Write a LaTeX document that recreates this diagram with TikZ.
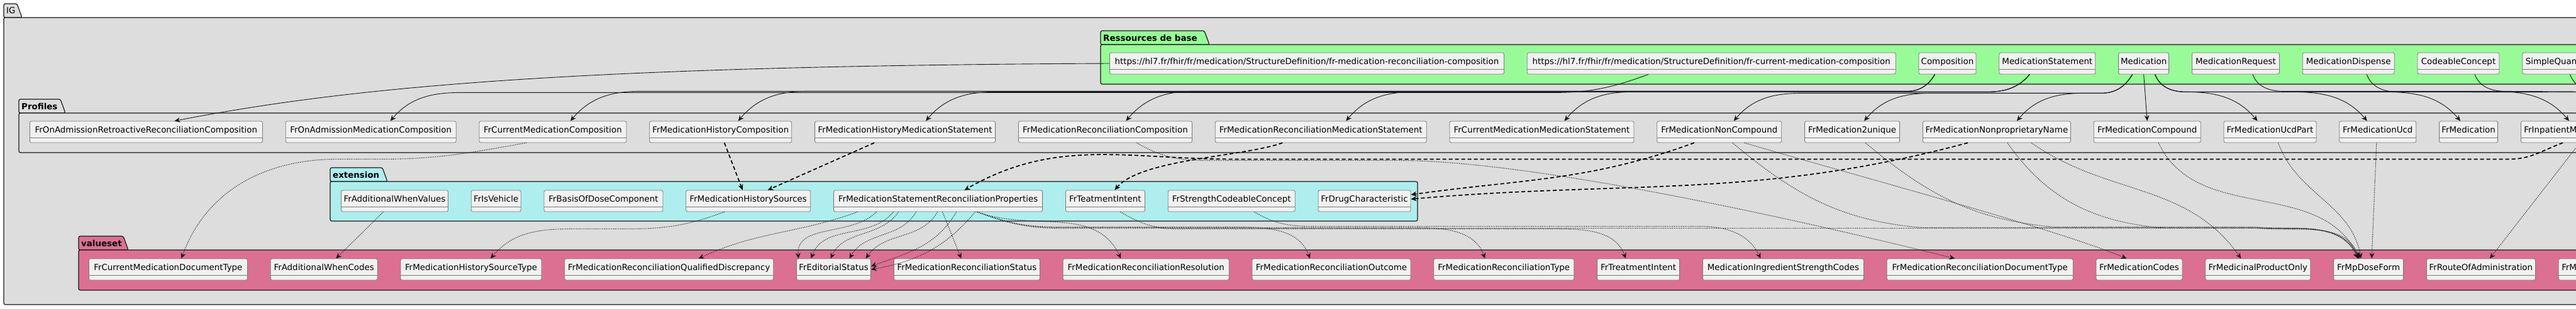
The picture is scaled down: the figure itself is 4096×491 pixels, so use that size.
\documentclass[tikz,border=0pt]{standalone}
\usepackage{fontspec}
\setmainfont{DejaVu Sans}
\usetikzlibrary{positioning,arrows.meta}

\definecolor{igback}{HTML}{DDDDDD}
\definecolor{basegreen}{HTML}{98FB98}
\definecolor{extcyan}{HTML}{AFEEEE}
\definecolor{vspink}{HTML}{DB7093}
\definecolor{boxfill}{HTML}{F1F1F1}
\definecolor{boxline}{HTML}{7A7A7A}
\definecolor{inkline}{HTML}{181818}

\newcommand{\boxfont}{\fontsize{13.4}{16}\selectfont}
% package frame: x, tab top, tab right, frame top, frame right, frame bottom, colour, title
\newcommand{\pkgframe}[8]{%
  \filldraw[pkg line, fill=#7] (#1,-#4) -- (#1,-#2) -- (#3-8,-#2) -- (#3,-#4) -- cycle;
  \filldraw[pkg line, fill=#7] (#1,-#4) rectangle (#5,-#6);
  \node[pkg title] at ({#1+4},{-(#2+#4)/2}) {#8};
}

\begin{document}
\begin{tikzpicture}[x=1pt, y=1pt,
    >={Stealth[length=9pt,width=8pt,inset=3pt]},
    pkg line/.style={draw=inkline, line width=1.2pt, rounded corners=2.5pt},
    pkg title/.style={anchor=west, inner sep=0pt, font=\boxfont\bfseries},
    class box/.style={draw=boxline, fill=boxfill, line width=0.8pt, rounded corners=2.5pt,
        inner sep=0pt, minimum height=34pt, text height=14pt, text depth=12pt,
        anchor=west, font=\boxfont,
        path picture={\draw[boxline, line width=0.8pt]
            ([yshift=8pt]path picture bounding box.south west) --
            ([yshift=8pt]path picture bounding box.south east);}},
    cut box/.style={class box, inner xsep=5pt},
    base edge/.style={->, draw=inkline, line width=0.9pt},
    ext edge/.style={->, draw=black, line width=1.7pt, dash pattern=on 6pt off 4pt},
    vs edge/.style={->, draw=inkline, line width=1.1pt, dash pattern=on 1.1pt off 1.7pt}]

  \useasboundingbox (0,0) rectangle (4096,-491);
  \clip (0,0) rectangle (4096,-491);

  % packages
  \pkgframe{6}{6}{35}{28}{4200}{485}{igback}{\mdseries IG}
  \pkgframe{1750}{49}{1923}{71}{4200}{134}{basegreen}{Ressources de base}
  \pkgframe{30}{158}{104}{180}{4200}{243}{igback}{Profiles}
  \pkgframe{525}{267}{616}{289}{2254}{352}{extcyan}{extension}
  \pkgframe{125}{376}{204}{398}{4200}{462}{vspink}{valueset}

  % Ressources de base
  \node[class box, minimum width=627pt] (b1) at (1764,-101) {https://hl7.fr/fhir/fr/medication/StructureDefinition/fr-medication-reconciliation-composition};
  \node[class box, minimum width=586pt] (b2) [right=36pt of b1] {https://hl7.fr/fhir/fr/medication/StructureDefinition/fr-current-medication-composition};
  \node[class box, minimum width=91pt] (comp) [right=36pt of b2] {Composition};
  \node[class box, minimum width=153pt] (mstat) [right=36pt of comp] {MedicationStatement};
  \node[class box, minimum width=80pt] (med) [right=36pt of mstat] {Medication};
  \node[class box, minimum width=139pt] (mreq) [right=36pt of med] {MedicationRequest};
  \node[class box, minimum width=146pt] (mdisp) [right=36pt of mreq] {MedicationDispense};
  \node[class box, minimum width=130pt] (ccpt) [right=36pt of mdisp] {CodeableConcept};
  \node[cut box] (squant) [right=36pt of ccpt] {\makebox[200pt][l]{SimpleQuant}};

  % Profiles
  \node[class box, minimum width=370pt] (p1) at (47,-210) {FrOnAdmissionRetroactiveReconciliationComposition};
  \node[class box, minimum width=271pt] (p2) [right=36pt of p1] {FrOnAdmissionMedicationComposition};
  \node[class box, minimum width=234pt] (p3) [right=36pt of p2] {FrCurrentMedicationComposition};
  \node[class box, minimum width=226pt] (p4) [right=36pt of p3] {FrMedicationHistoryComposition};
  \node[class box, minimum width=287pt] (p5) [right=36pt of p4] {FrMedicationHistoryMedicationStatement};
  \node[class box, minimum width=276pt] (p6) [right=36pt of p5] {FrMedicationReconciliationComposition};
  \node[class box, minimum width=336pt] (p7) [right=36pt of p6] {FrMedicationReconciliationMedicationStatement};
  \node[class box, minimum width=293pt] (p8) [right=36pt of p7] {FrCurrentMedicationMedicationStatement};
  \node[class box, minimum width=198pt] (p9) [right=36pt of p8] {FrMedicationNonCompound};
  \node[class box, minimum width=151pt] (p10) [right=36pt of p9] {FrMedication2unique};
  \node[class box, minimum width=235pt] (p11) [right=36pt of p10] {FrMedicationNonproprietaryName};
  \node[class box, minimum width=170pt] (p12) [right=36pt of p11] {FrMedicationCompound};
  \node[class box, minimum width=147pt] (p13) [right=36pt of p12] {FrMedicationUcdPart};
  \node[class box, minimum width=122pt] (p14) [right=36pt of p13] {FrMedicationUcd};
  \node[class box, minimum width=93pt] (p15) [right=36pt of p14] {FrMedication};
  \node[cut box] (p16) [right=36pt of p15] {\makebox[200pt][l]{FrInpatientMe}};

  % extension
  \node[class box, minimum width=170pt] (e1) at (542,-320) {FrAdditionalWhenValues};
  \node[class box, minimum width=79pt] (e2) [right=36pt of e1] {FrIsVehicle};
  \node[class box, minimum width=189pt] (e3) [right=36pt of e2] {FrBasisOfDoseComponent};
  \node[class box, minimum width=198pt] (e4) [right=36pt of e3] {FrMedicationHistorySources};
  \node[class box, minimum width=332pt] (e5) [right=36pt of e4] {FrMedicationStatementReconciliationProperties};
  \node[class box, minimum width=126pt] (e6) [right=36pt of e5] {FrTeatmentIntent};
  \node[class box, minimum width=202pt] (e7) [right=36pt of e6] {FrStrengthCodeableConcept};
  \node[class box, minimum width=147pt] (e8) [right=36pt of e7] {FrDrugCharacteristic};

  % valueset
  \node[class box, minimum width=252pt] (v1) at (141,-429) {FrCurrentMedicationDocumentType};
  \node[class box, minimum width=170pt] (v2) [right=36pt of v1] {FrAdditionalWhenCodes};
  \node[class box, minimum width=224pt] (v3) [right=36pt of v2] {FrMedicationHistorySourceType};
  \node[class box, minimum width=332pt] (v4) [right=36pt of v3] {FrMedicationReconciliationQualifiedDiscrepancy};
  \node[class box, minimum width=118pt] (v5) [right=36pt of v4] {FrEditorialStatus};
  \node[class box, minimum width=232pt] (v6) [right=36pt of v5] {FrMedicationReconciliationStatus};
  \node[class box, minimum width=264pt] (v7) [right=36pt of v6] {FrMedicationReconciliationResolution};
  \node[class box, minimum width=252pt] (v8) [right=36pt of v7] {FrMedicationReconciliationOutcome};
  \node[class box, minimum width=223pt] (v9) [right=36pt of v8] {FrMedicationReconciliationType};
  \node[class box, minimum width=131pt] (v10) [right=36pt of v9] {FrTreatmentIntent};
  \node[class box, minimum width=256pt] (v11) [right=36pt of v10] {MedicationIngredientStrengthCodes};
  \node[class box, minimum width=296pt] (v12) [right=36pt of v11] {FrMedicationReconciliationDocumentType};
  \node[class box, minimum width=137pt] (v13) [right=36pt of v12] {FrMedicationCodes};
  \node[class box, minimum width=167pt] (v14) [right=36pt of v13] {FrMedicinalProductOnly};
  \node[class box, minimum width=111pt] (v15) [right=36pt of v14] {FrMpDoseForm};
  \node[class box, minimum width=173pt] (v16) [right=36pt of v15] {FrRouteOfAdministration};
  \node[cut box] (v17) [right=36pt of v16] {\makebox[200pt][l]{FrMet}};

  \coordinate (offright) at (4300,-147);

  % base resources -> profiles
  \draw[base edge] (b1.west) .. controls +(-864,-4) and +(273,53) .. ([xshift=45]p1.north);
  \draw[base edge] ([xshift=-100]b2.south) to[out=-160,in=0] ++(-150,-29) -- ++(-1740,0) to[out=180,in=50] ([xshift=31]p2.north);
  \draw[base edge] ([xshift=-20]comp.south) to[out=-120,in=0] ++(-45,-27) -- ++(-2015,0) to[out=180,in=50] ([xshift=28]p3.north);
  \draw[base edge] ([xshift=-20]comp.south) to[out=-120,in=0] ++(-45,-27) -- ++(-1749,0) to[out=180,in=50] ([xshift=28]p4.north);
  \draw[base edge] ([xshift=-20]comp.south) to[out=-120,in=0] ++(-45,-27) -- ++(-1134,0) to[out=180,in=50] ([xshift=33]p6.north);
  \draw[base edge] ([xshift=-28]mstat.south) to[out=-130,in=0] ++(-70,-28) -- ++(-1576,0) to[out=180,in=50] ([xshift=33]p5.north);
  \draw[base edge] ([xshift=-28]mstat.south) to[out=-130,in=0] ++(-70,-28) -- ++(-910,0) to[out=180,in=50] ([xshift=40]p7.north);
  \draw[base edge] ([xshift=-28]mstat.south) to[out=-130,in=0] ++(-70,-28) -- ++(-563,0) to[out=180,in=50] ([xshift=36]p8.north);
  \draw[base edge] ([xshift=-18]med.south) to[out=-120,in=0] ++(-50,-30) -- ++(-477,0) to[out=180,in=50] ([xshift=23]p9.north);
  \draw[base edge] ([xshift=-18]med.south) to[out=-120,in=0] ++(-50,-30) -- ++(-270,0) to[out=180,in=50] ([xshift=19]p10.north);
  \draw[base edge] ([xshift=-18]med.south) to[out=-120,in=0] ++(-50,-30) -- ++(-28,0) to[out=180,in=50] ([xshift=32]p11.north);
  \draw[base edge] (med.south) -- (p12.north);
  \draw[base edge] ([xshift=18]med.south) to[out=-70,in=180] ++(50,-28) to[out=0,in=130] ([xshift=-20]p13.north);
  \draw[base edge] ([xshift=18]med.south) to[out=-70,in=180] ++(50,-28) -- ++(170,0) to[out=0,in=130] ([xshift=-17]p14.north);
  \draw[base edge] ([xshift=18]med.south) to[out=-70,in=180] ++(50,-28) -- ++(317,0) to[out=0,in=130] ([xshift=-13]p15.north);
  \draw[base edge] ([xshift=27]mreq.south) to[out=-70,in=180] ++(50,-27) -- ++(335,0) to[out=0,in=130] ([xshift=77]p16.north west);
  \draw[base edge, -] ([xshift=29]mdisp.south) to[out=-70,in=180] ++(50,-28) -- (offright);
  \draw[base edge, -] ([xshift=26]ccpt.south) to[out=-70,in=180] ++(50,-27) -- (offright);
  \draw[base edge, -] ([xshift=76]squant.south west) to[out=-70,in=180] ++(50,-28) -- (offright);

  % profiles -> extensions
  \draw[ext edge] ([xshift=6]p4.south) -- ([xshift=-9]e4.north);
  \draw[ext edge] ([xshift=-49]p5.south) -- ([xshift=31]e4.north);
  \draw[ext edge] ([xshift=-61]p7.south) to[out=-160,in=50,looseness=0.6] ([xshift=15]e6.north);
  \draw[ext edge] ([xshift=67]p16.south west) to[out=-160,in=0] ++(-85,-26) -- ++(-2030,0) to[out=180,in=30] ([xshift=42]e5.north);
  \draw[ext edge] ([xshift=-40]p9.south) to[out=-160,in=8] ([yshift=10]e8.east);
  \draw[ext edge] ([xshift=-46]p11.south) to[out=-165,in=5] ([yshift=3]e8.east);

  % bindings -> valuesets
  \draw[vs edge] ([xshift=-42]p3.south) to[out=-170,in=0] ++(-230,-26) -- ++(-70,0) to[out=180,in=70] ([xshift=21]v1.north);
  \draw[vs edge] ([xshift=-18]e1.south) -- ([xshift=19]v2.north);
  \draw[vs edge] ([xshift=-38]e4.south) to[out=-160,in=0] ++(-150,-27) -- ++(-90,0) to[out=180,in=50] ([xshift=31]v3.north);
  \draw[vs edge] ([xshift=-128]e5.south) to[out=-160,in=25] ([xshift=47]v4.north);
  \draw[vs edge] ([xshift=-98]e5.south) to[out=-135,in=95] ([xshift=-56]v5.north);
  \draw[vs edge] ([xshift=-71]e5.south) to[out=-130,in=70] ([xshift=-36]v5.north);
  \draw[vs edge] ([xshift=-63]e5.south) to[out=-125,in=65] ([xshift=-5]v5.north);
  \draw[vs edge] ([xshift=-35]e5.south) to[out=-120,in=60] ([xshift=25]v5.north);
  \draw[vs edge] ([xshift=-1]e5.south) to[out=-120,in=55] ([xshift=51]v5.north);
  \draw[vs edge] ([xshift=29]e5.south) to[out=-120,in=20] ([yshift=5]v5.east);
  \draw[vs edge] ([xshift=59]e5.south) to[out=-130,in=10] (v5.east);
  \draw[vs edge] ([xshift=7]e5.south) -- ([xshift=-9]v6.north);
  \draw[vs edge] ([xshift=62]e5.south) to[out=-20,in=115] ([xshift=-40]v7.north);
  \draw[vs edge] ([xshift=62]e5.south) to[out=-20,in=180] ++(130,-24) -- ++(280,0) to[out=0,in=110] ([xshift=-34]v8.north);
  \draw[vs edge] ([xshift=62]e5.south) to[out=-20,in=180] ++(130,-25) -- ++(560,0) to[out=0,in=110] ([xshift=-30]v9.north);
  \draw[vs edge] ([xshift=62]e5.south) to[out=-20,in=180] ++(130,-26) -- ++(1970,0) to[out=0,in=115] ([xshift=-15]v15.north);
  \draw[vs edge] ([xshift=24]e6.south) to[out=-30,in=180] ++(90,-27) -- ++(600,0) to[out=0,in=110] ([xshift=-20]v10.north);
  \draw[vs edge] ([xshift=36]e7.south) to[out=-30,in=180] ++(90,-23) -- ++(620,0) to[out=0,in=115] ([xshift=-36]v11.north);
  \draw[vs edge] ([xshift=50]p6.south) to[out=-30,in=180] ++(110,-28) -- ++(305,0) .. controls +(250,0) and +(-120,30) .. ([xshift=-40]v12.north);
  \draw[vs edge] ([xshift=40]p9.south) .. controls +(150,-45) and +(-120,50) .. ([xshift=-20]v13.north);
  \draw[vs edge] ([xshift=21]p9.south) to[out=-40,in=175] ++(300,-135) -- ++(530,0) to[out=-5,in=115] ([xshift=-17]v15.north);
  \draw[vs edge] ([xshift=21]p10.south) to[out=-40,in=175] ++(300,-134) -- ++(320,0) to[out=-5,in=115] ([xshift=-16]v15.north);
  \draw[vs edge] ([xshift=17]p11.south) to[out=-55,in=175] ++(250,-136) -- ++(150,0) to[out=-5,in=112] ([xshift=-14]v15.north);
  \draw[vs edge] ([xshift=55]p11.south) to[out=-35,in=125] ([xshift=-27]v14.north);
  \draw[vs edge] ([xshift=18]p12.south) to[out=-65,in=115] ([xshift=-15]v15.north);
  \draw[vs edge] ([xshift=13]p13.south) to[out=-70,in=100] ([xshift=-12]v15.north);
  \draw[vs edge] ([xshift=-2]p14.south) -- ([xshift=5]v15.north);
  \draw[vs edge] ([xshift=94]p16.south west) -- ([xshift=14]v16.north);
\end{tikzpicture}
\end{document}
